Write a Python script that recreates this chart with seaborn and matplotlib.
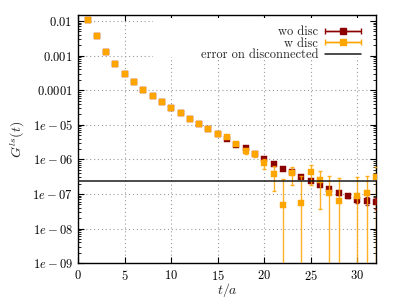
import numpy as np
import matplotlib
matplotlib.use("Agg")
import matplotlib.pyplot as plt
import seaborn as sns
import pandas as pd
from matplotlib.container import ErrorbarContainer
from matplotlib.legend_handler import HandlerErrorbar
from matplotlib.lines import Line2D
from matplotlib.collections import LineCollection
from matplotlib.patches import Rectangle
from matplotlib.ticker import FixedLocator, FixedFormatter, LogLocator, NullFormatter

# ---------------- data ----------------
t = list(range(1, 33))
g_wo = [0.0105, 3.6e-3, 1.27e-3, 5.7e-4, 2.94e-4, 1.68e-4, 1.01e-4, 6.6e-5,
        4.45e-5, 3.06e-5, 2.14e-5, 1.5e-5, 1.05e-5, 7.6e-6, 5.4e-6, 3.8e-6,
        2.6e-6, 2.1e-6, 1.45e-6, 1.0e-6, 7.4e-7, 5.4e-7, 4.2e-7, 3.0e-7,
        2.31e-7, 1.86e-7, 1.4e-7, 1.07e-7, 8.9e-8, 6.8e-8, 6.4e-8, 5.7e-8]
err_wo = [1e-5, 4e-6, 1.5e-6, 7e-7, 4e-7, 2e-7, 1.2e-7, 8e-8,
          6e-8, 4e-8, 3e-8, 2.5e-8, 2e-8, 2e-8, 2e-8, 2e-8,
          2e-8, 2e-8, 2e-8, 1.5e-8, 1.5e-8, 1.5e-8, 1.5e-8, 1.5e-8,
          1.2e-8, 1.2e-8, 1.2e-8, 1.2e-8, 1.2e-8, 1.2e-8, 1.5e-8, 2e-8]
g_w = [0.0105, 3.6e-3, 1.27e-3, 5.7e-4, 2.94e-4, 1.68e-4, 1.01e-4, 6.6e-5,
       4.45e-5, 3.06e-5, 2.14e-5, 1.5e-5, 1.05e-5, 7.6e-6, 5.5e-6, 4.3e-6,
       2.84e-6, 1.7e-6, 1.43e-6, 7.9e-7, 3.9e-7, 4.7e-8, 3.96e-7, 5.3e-8,
       4.4e-7, 2.47e-7, 1.07e-7, 6.4e-8, np.nan, 8.9e-8, 1.07e-7, 3.0e-7]
err_w = [2.3e-7, 2.3e-7, 2.3e-7, 2.3e-7, 2.3e-7, 2.3e-7, 2.3e-7, 2.3e-7,
         2.3e-7, 2.3e-7, 2.3e-7, 2.3e-7, 2.3e-7, 2.3e-7, 2.3e-7, 2.3e-7,
         2.3e-7, 2.3e-7, 2.3e-7, 2.5e-7, 2.7e-7, 2.3e-7, 2.1e-7, 2.8e-7,
         2.6e-7, 2.1e-7, 2.3e-7, 2.2e-7, np.nan, 2.2e-7, 2.3e-7, 3.2e-7]
disc_err = 2.3e-7

labels = ["wo disc", "w disc", "error on disconnected"]
xticks = [0, 5, 10, 15, 20, 25, 30]
xtick_labels = ["$0$", "$5$", "$10$", "$15$", "$20$", "$25$", "$30$"]
yticks = [1e-9, 1e-8, 1e-7, 1e-6, 1e-5, 1e-4, 1e-3, 1e-2]
ytick_labels = ["$1e-09$", "$1e-08$", "$1e-07$", "$1e-06$", "$1e-05$",
                "$0.0001$", "$0.001$", "$0.01$"]

# ---------------- style ----------------
sns.set_theme(style="ticks")
plt.rcParams["font.family"] = ["cmr10", "DejaVu Serif"]
plt.rcParams["mathtext.fontset"] = "cm"
plt.rcParams["axes.unicode_minus"] = False
plt.rcParams["axes.formatter.use_mathtext"] = True
plt.rcParams["font.size"] = 9

RED = "#8b0000"
ORANGE = "#ffa500"

fig = plt.figure(figsize=(3.99, 2.99), dpi=100)
ax = fig.add_axes([0.196, 0.120, 0.746, 0.830])

df_wo = pd.DataFrame({"t": t, "G": g_wo, "err": err_wo})
df_w = pd.DataFrame({"t": t, "G": g_w, "err": err_w})

ax.set_yscale("log")

# wo disc
ax.errorbar(df_wo["t"], df_wo["G"], yerr=df_wo["err"], fmt="none",
            ecolor=RED, elinewidth=1.0, capsize=1.6, capthick=1.0, alpha=0.85, zorder=3)
sns.scatterplot(data=df_wo, x="t", y="G", ax=ax, marker="s", color=RED,
                s=19, edgecolor=RED, linewidth=0.3, legend=False, zorder=4)
# w disc
ax.errorbar(df_w["t"], df_w["G"], yerr=df_w["err"], fmt="none",
            ecolor=ORANGE, elinewidth=1.0, capsize=1.6, capthick=1.0, alpha=0.85, zorder=5)
sns.scatterplot(data=df_w, x="t", y="G", ax=ax, marker="s", color=ORANGE,
                s=19, edgecolor=ORANGE, linewidth=0.3, legend=False, zorder=6)

ax.axhline(disc_err, color="#1a1a1a", lw=1.1, zorder=7)

ax.set_xlim(0, 32)
ax.set_ylim(1e-9, 0.015)

ax.xaxis.set_major_locator(FixedLocator(xticks))
ax.xaxis.set_major_formatter(FixedFormatter(xtick_labels))
ax.yaxis.set_major_locator(FixedLocator(yticks))
ax.yaxis.set_major_formatter(FixedFormatter(ytick_labels))
ax.yaxis.set_minor_locator(LogLocator(base=10, subs=np.arange(2, 10), numticks=20))
ax.yaxis.set_minor_formatter(NullFormatter())

ax.tick_params(which="both", direction="in", top=True, right=True,
               labelsize=9, colors="black", pad=4)
ax.tick_params(which="major", length=4, width=0.8)
ax.tick_params(which="minor", length=2, width=0.6)
ax.tick_params(axis="x", which="minor", bottom=False, top=False)

ax.grid(True, which="major", color="#9a9a9a", linestyle=(0, (1, 2.5)), linewidth=0.8)
ax.set_axisbelow(True)
for sp in ax.spines.values():
    sp.set_color("black")
    sp.set_linewidth(1.0)

ax.set_xlabel("$t/a$", fontsize=10, labelpad=-1.5)
ax.set_ylabel("$G^{ls}(t)$", fontsize=10, labelpad=4)

# white key box (gnuplot style)
ax.add_patch(Rectangle((0.252, 0.831), 0.721, 0.157, transform=ax.transAxes,
                       facecolor="white", edgecolor="none", zorder=1))

# legend proxies
def err_proxy(color):
    ln = Line2D([], [], color=color, marker="s", markersize=4.4, lw=1.0)
    bar = LineCollection([], colors=color, linewidths=1.0)
    cap = Line2D([], [], color=color, marker="|", markersize=4, lw=0)
    return ErrorbarContainer((ln, (cap,), (bar,)), has_xerr=True, has_yerr=False)

h_wo = err_proxy(RED)
h_w = err_proxy(ORANGE)
h_line = Line2D([], [], color="#1a1a1a", lw=1.1)

hl = 2.85
leg = ax.legend([h_wo, h_w, h_line], labels, loc="upper right",
                bbox_to_anchor=(0.949, 0.955), borderaxespad=0, borderpad=0,
                frameon=False, markerfirst=False, handlelength=hl,
                handletextpad=0.55, labelspacing=-0.05, fontsize=9, numpoints=1,
                handler_map={ErrorbarContainer: HandlerErrorbar(xerr_size=hl / 2)})

fig.savefig("out.png", dpi=100)
